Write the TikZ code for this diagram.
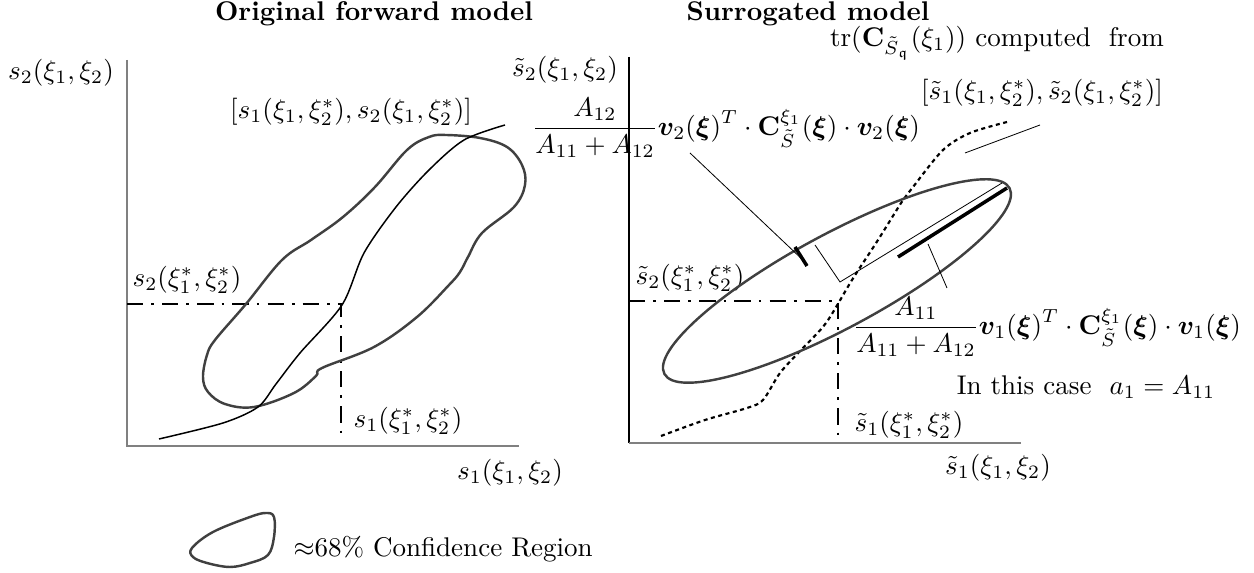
\documentclass[tikz,border=0pt]{standalone}
\usepackage{amsmath,amssymb,bm}
\newcommand{\xx}{(\xi_1,\xi_2)}
\newcommand{\xst}{(\xi_1^*,\xi_2^*)}
\newcommand{\xsec}{(\xi_1,\xi_2^*)}
\newcommand{\bxi}{(\bm{\xi})}
\definecolor{regiongray}{gray}{0.25}

\begin{document}
\begin{tikzpicture}[x=0.013cm,y=-0.013cm,
	axis/.style={draw=gray,line width=0.6pt},
	region/.style={draw=regiongray,line width=0.9pt,line join=round},
	guide/.style={line width=0.7pt,dash pattern=on 6pt off 3pt on 1pt off 3pt},
	leader/.style={line width=0.3pt},
	heavy/.style={line width=1.3pt}]
			\useasboundingbox (0,0) rectangle (1254,573);
			% titles
			\node[font=\bfseries] (titleL) at (374,14) {Original forward model};
			\node[font=\bfseries] (titleR) at (808,14) {Surrogated model};
			% left axes
			\coordinate (topL) at (127,60);
			\coordinate (oL) at (127,446);
			\coordinate (endL) at (519,446);
			\draw[axis] (topL) -- (oL) -- (endL);
			\node (ylabL) at (61,73) {$s_2\xx$};
			\node (xlabL) at (510,473) {$s_1\xx$};
			% left guide lines
			\coordinate (hL) at (127,304);
			\coordinate (pL) at (341,304);
			\coordinate (vL) at (341,436);
			\draw[guide] (hL) -- (pL) -- (vL);
			\node (s2stL) at (187,280) {$s_2\xst$};
			\node (s1stL) at (408,421) {$s_1\xst$};
			% left confidence region
			\draw[region] plot[smooth cycle,tension=0.6] coordinates {(429,137) (446,135) (480,138) (507,147) (522,165) (525,185) (514,207) (482,233) (468,257) (460,272) (449,285) (417,317) (374,347) (322,368) (316,376) (294,393) (254,407) (225,404) (208,392) (203,377) (207,355) (215,340) (246,304) (282,260) (311,240) (343,217) (375,187) (407,150)};
			% left curve
			\draw[line width=0.55pt] plot[smooth] coordinates {(159,439) (223,423) (258,407) (276,384) (300,353) (342,305) (364,253) (396,207) (429,170) (464,140) (505,125)};
			\node (curveL) at (351,112) {$[s_1\xsec, s_2\xsec]$};
			% right axes
			\coordinate (topR) at (629,57);
			\coordinate (oR) at (629,443);
			\coordinate (endR) at (1021,443);
			\draw[line width=0.4pt] (topR) -- (oR);
			\draw[axis] (oR) -- (endR);
			\node (ylabR) at (565,70) {$\tilde{s}_2\xx$};
			\node (xlabR) at (998,468) {$\tilde{s}_1\xx$};
			% right guide lines
			\coordinate (hR) at (629,301);
			\coordinate (pR) at (838,301);
			\coordinate (vR) at (838,440);
			\draw[guide] (hR) -- (pR) -- (vR);
			\node (s2stR) at (690,278) {$\tilde{s}_2\xst$};
			\node (s1stR) at (909,425) {$\tilde{s}_1\xst$};
			% surrogate curve
			\draw[line width=0.8pt,dash pattern=on 1.5pt off 1.3pt] plot[smooth] coordinates {(661,436) (705,420) (747,408) (763,400) (780,373) (801,350) (826,323) (852,280) (878,240) (903,200) (913,187) (943,150) (970,133) (1007,122)};
			\node[inner sep=1pt] (trlab) at (997,43) {$\mathrm{tr}(\mathbf{C}_{\tilde{S}_{\mathfrak{q}}}(\xi_1))$ computed\ \ from};
			\node[inner sep=1pt] (trpts) at (1042,93) {$[\tilde{s}_1\xsec, \tilde{s}_2\xsec]$};
			\coordinate (trA) at (965,153);
			\coordinate (trB) at (1040,125);
			\draw[leader] (trA) -- (trB);
			% ellipse and its axes
			\coordinate (ec) at (837,281);
			\draw[region,rotate around={28.3:(ec)}] (ec) ellipse [x radius=196,y radius=47];
			\coordinate (eTop) at (815,245);
			\coordinate (eMid) at (840,282);
			\coordinate (eTip) at (1002,183);
			\draw[leader] (eTop) -- (eMid) -- (eTip);
			\coordinate (axA) at (898,257);
			\coordinate (axB) at (1007,188);
			\draw[heavy] (axA) -- (axB);
			\coordinate (tickA) at (795,247);
			\coordinate (tickB) at (807,266);
			\draw[heavy] (tickA) -- (tickB);
			% eigen terms
			\node[inner sep=1pt] (lamtwo) at (726,128) {$\displaystyle\frac{A_{12}}{A_{11}+A_{12}}\bm{v}_2\bxi^T\cdot\mathbf{C}^{\xi_1}_{\tilde{S}}\bxi\cdot\bm{v}_2\bxi$};
			\coordinate (ltA) at (690,153);
			\coordinate (ltB) at (805,262);
			\draw[leader] (ltA) -- (ltB);
			\node[inner sep=1pt] (lamone) at (1047,327) {$\displaystyle\frac{A_{11}}{A_{11}+A_{12}}\bm{v}_1\bxi^T\cdot\mathbf{C}^{\xi_1}_{\tilde{S}}\bxi\cdot\bm{v}_1\bxi$};
			\coordinate (loA) at (928,244);
			\coordinate (loB) at (947,288);
			\draw[leader] (loA) -- (loB);
			\node (case) at (1086,387) {In this case\ \ $a_1=A_{11}$};
			% legend
			\draw[region] plot[smooth cycle,tension=0.6] coordinates {(192,548) (213,532) (250,517) (266,513) (274,517) (274,537) (268,555) (250,563) (230,567) (207,563) (193,557)};
			\node[anchor=west] (legend) at (284,549) {$\approx$68\% Confidence Region};
\end{tikzpicture}
\end{document}
